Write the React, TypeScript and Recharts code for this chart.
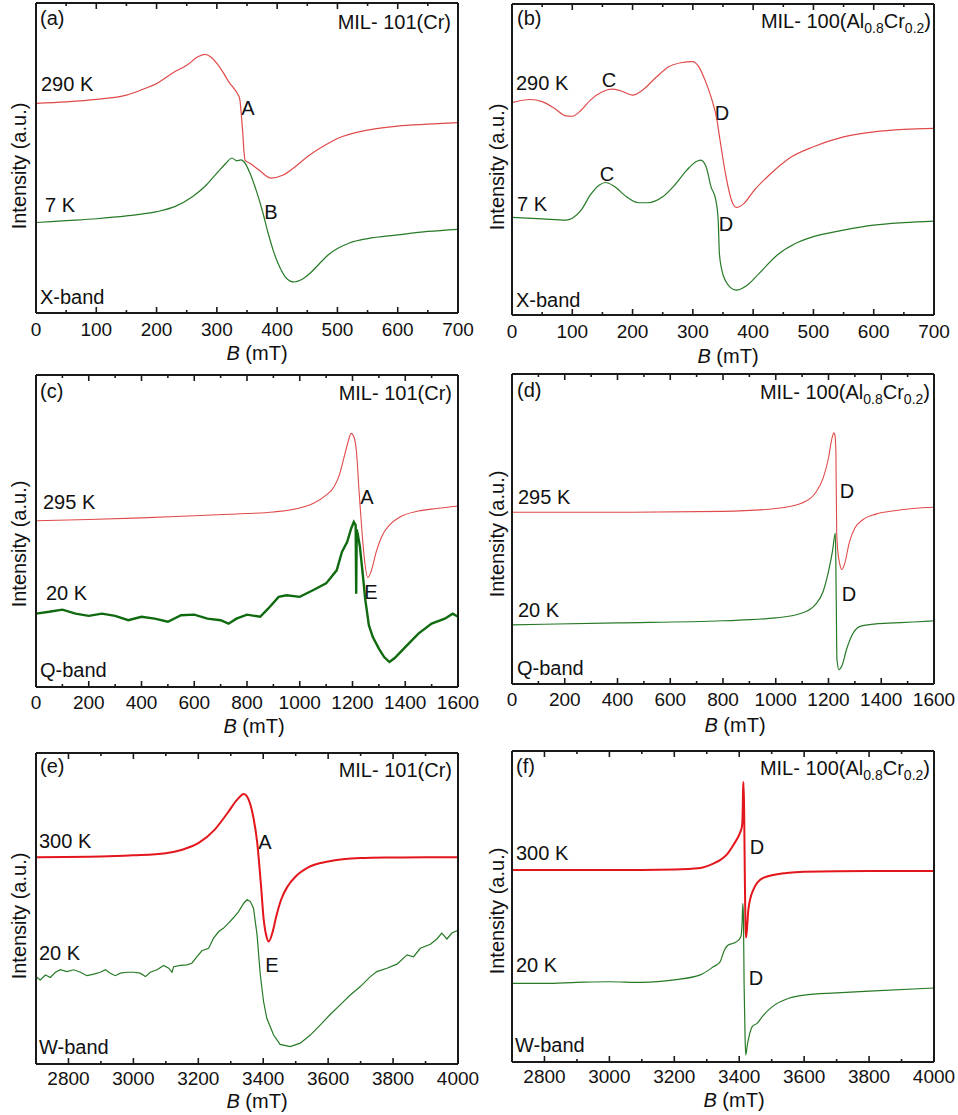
import React from 'react';
import { LineChart, Line, XAxis, YAxis } from 'recharts';

const FONT = '"Liberation Sans", Arial, Helvetica, sans-serif';
const INK = '#111';
const FRAME = '#1a1a1a';
const RED = '#e04a4a';
const RED_W = '#e3161b';
const GREEN = '#267a26';
const GREEN_Q = '#0f6a10';

// tick values + which ones get a label
const ticksX = [0, 50, 100, 150, 200, 250, 300, 350, 400, 450, 500, 550, 600, 650, 700];
const labelsX = [0, 100, 200, 300, 400, 500, 600, 700];
const ticksQ = [0, 100, 200, 300, 400, 500, 600, 700, 800, 900, 1000, 1100, 1200, 1300, 1400, 1500, 1600];
const labelsQ = [0, 200, 400, 600, 800, 1000, 1200, 1400, 1600];
const ticksW = [2800, 2900, 3000, 3100, 3200, 3300, 3400, 3500, 3600, 3700, 3800, 3900, 4000];
const labelsW = [2800, 3000, 3200, 3400, 3600, 3800, 4000];

// (a) X-band, MIL-101(Cr)
const aB290 = [0, 50, 100, 150, 180, 200, 230, 250, 270, 280, 290, 300, 310, 320, 330, 335, 338, 341, 343, 345, 347, 355, 370, 390, 410, 430, 450, 480, 500, 550, 600, 650, 700];
const aI290 = [67.6, 68.1, 68.9, 70.3, 72.4, 74.0, 77.8, 79.9, 82.8, 83.4, 82.6, 80.5, 77.7, 74.5, 72.0, 70.5, 69.0, 63.0, 58.0, 52.0, 49.2, 48.3, 46.1, 43.5, 44.5, 47.2, 50.4, 54.2, 56.3, 59.0, 60.3, 60.9, 61.4];
const aB7 = [0, 50, 100, 150, 200, 230, 260, 280, 300, 315, 325, 333, 340, 345, 355, 365, 375, 385, 395, 405, 415, 428, 440, 455, 470, 485, 500, 520, 550, 600, 650, 700];
const aI7 = [29.2, 29.8, 30.4, 31.3, 32.7, 34.3, 37.6, 40.8, 45.1, 48.3, 50.0, 49.1, 49.4, 48.8, 45.1, 39.7, 33.3, 25.8, 19.3, 14.5, 11.3, 10.0, 10.7, 12.9, 15.9, 18.8, 20.8, 22.6, 24.0, 25.2, 26.3, 27.0];

// (b) X-band, MIL-100(Al0.8Cr0.2)
const bB290 = [0, 30, 50, 70, 90, 100, 115, 130, 150, 165, 180, 200, 215, 240, 260, 280, 300, 310, 320, 330, 340, 345, 355, 365, 372, 385, 400, 430, 460, 500, 550, 600, 650, 700];
const bI290 = [68.3, 69.3, 68.6, 66.5, 64.0, 63.9, 65.9, 69.1, 71.8, 72.6, 72.1, 70.7, 72.1, 76.6, 79.8, 81.1, 81.5, 79.8, 75.6, 70.2, 62.7, 56.3, 44.5, 36.4, 34.6, 35.9, 39.7, 45.6, 50.4, 54.1, 57.3, 58.9, 59.7, 60.0];
const bB7 = [0, 50, 90, 100, 115, 130, 145, 155, 170, 190, 210, 225, 250, 270, 290, 305, 313, 322, 330, 338, 342, 344, 348, 355, 362, 372, 390, 410, 440, 470, 500, 550, 600, 650, 700];
const bI7 = [31.4, 30.9, 30.5, 31.1, 33.8, 38.6, 41.8, 42.6, 41.3, 38.0, 36.1, 36.1, 38.0, 41.8, 46.6, 49.3, 49.8, 47.7, 41.3, 37.0, 30.5, 19.8, 14.5, 10.7, 8.9, 8.0, 9.6, 13.4, 19.3, 23.0, 25.2, 27.3, 28.9, 29.7, 30.2];

// (c) Q-band, MIL-101(Cr)
const cB295 = [0, 200, 400, 600, 800, 900, 1000, 1050, 1100, 1130, 1150, 1170, 1185, 1195, 1205, 1215, 1225, 1235, 1245, 1258, 1270, 1290, 1310, 1340, 1380, 1450, 1520, 1600];
const cI295 = [53.3, 53.7, 54.2, 54.9, 55.6, 56.1, 57.4, 58.8, 61.5, 64.2, 67.9, 74.3, 79.1, 81.3, 80.2, 75.4, 62.6, 50.8, 41.2, 35.1, 36.9, 43.3, 48.1, 51.9, 54.5, 56.4, 57.2, 58.0];
const cB20 = [0, 50, 100, 150, 200, 250, 300, 350, 400, 450, 500, 550, 600, 650, 700, 730, 760, 800, 850, 880, 920, 950, 1000, 1050, 1100, 1140, 1160, 1180, 1195, 1205, 1212, 1214, 1216, 1220, 1228, 1238, 1248, 1262, 1277, 1300, 1320, 1340, 1360, 1400, 1450, 1500, 1550, 1580, 1600];
const cI20 = [23.5, 24.1, 24.8, 23.5, 22.8, 23.5, 22.8, 21.4, 22.5, 21.9, 20.9, 23.0, 23.2, 21.9, 21.4, 20.3, 21.9, 23.2, 22.5, 25.1, 28.9, 29.4, 28.9, 31.0, 33.2, 37.4, 43.3, 46.5, 50.8, 52.9, 51.9, 29.9, 50.5, 49.0, 45.0, 36.9, 28.3, 19.8, 16.0, 12.3, 9.6, 8.0, 9.3, 12.8, 17.1, 20.3, 21.9, 23.5, 22.5];

// (d) Q-band, MIL-100(Al0.8Cr0.2)
const dB295 = [0, 400, 800, 1000, 1100, 1150, 1180, 1200, 1212, 1220, 1224, 1228, 1231, 1236, 1242, 1250, 1260, 1280, 1300, 1330, 1380, 1450, 1520, 1600];
const dI295 = [55.4, 55.4, 55.7, 56.6, 58.4, 61.6, 66.5, 72.9, 78.8, 81.0, 80.4, 75.1, 49.2, 42.3, 39.0, 36.9, 38.5, 46.0, 50.3, 53.0, 54.8, 55.9, 56.6, 57.0];
const dB20 = [0, 400, 800, 1000, 1100, 1150, 1180, 1200, 1215, 1226, 1229, 1232, 1240, 1250, 1270, 1290, 1320, 1380, 1450, 1520, 1600];
const dI20 = [19.1, 19.7, 20.4, 21.3, 22.9, 25.6, 29.9, 36.3, 42.8, 48.7, 30.0, 8.0, 4.6, 5.7, 11.6, 15.9, 18.6, 19.4, 19.7, 20.0, 20.4];

// (e) W-band, MIL-101(Cr)
const eB300 = [2700, 2900, 3000, 3100, 3150, 3200, 3250, 3290, 3320, 3340, 3355, 3370, 3381, 3393, 3401, 3410, 3417, 3428, 3440, 3455, 3475, 3500, 3540, 3600, 3700, 3800, 3900, 4000];
const eI300 = [66.5, 66.7, 67.1, 67.8, 68.9, 71.0, 75.3, 80.7, 85.0, 86.8, 85.0, 79.1, 71.6, 57.6, 46.9, 41.0, 39.4, 42.1, 47.4, 52.8, 57.1, 60.3, 63.3, 65.1, 66.2, 66.4, 66.5, 66.5];
const eB20 = [2700, 2713, 2729, 2744, 2760, 2775, 2795, 2816, 2837, 2857, 2878, 2898, 2914, 2929, 2944, 2960, 2980, 3001, 3021, 3037, 3052, 3073, 3093, 3109, 3119, 3124, 3145, 3165, 3180, 3196, 3211, 3232, 3247, 3263, 3278, 3293, 3309, 3324, 3340, 3350, 3360, 3370, 3381, 3391, 3401, 3411, 3432, 3452, 3483, 3514, 3545, 3576, 3607, 3637, 3668, 3699, 3730, 3750, 3781, 3812, 3843, 3863, 3884, 3915, 3935, 3950, 3966, 3981, 4000];
const eI20 = [28.1, 27.0, 28.6, 27.8, 29.5, 30.3, 29.7, 30.3, 29.5, 28.4, 28.9, 29.5, 30.3, 29.2, 28.4, 29.2, 29.5, 29.5, 29.2, 28.1, 29.5, 30.3, 31.7, 30.8, 29.5, 31.3, 31.7, 31.9, 32.4, 34.5, 36.4, 37.2, 40.5, 42.6, 43.7, 45.3, 47.1, 49.0, 51.7, 52.8, 52.3, 50.1, 41.5, 28.6, 20.1, 14.7, 9.3, 6.3, 5.6, 6.7, 9.3, 12.6, 16.0, 19.0, 22.2, 24.9, 28.1, 29.7, 30.8, 32.1, 35.1, 34.5, 37.2, 38.5, 40.2, 42.1, 40.2, 42.1, 43.0];

// (f) W-band, MIL-100(Al0.8Cr0.2)
const fB300 = [2700, 3000, 3200, 3280, 3320, 3341, 3360, 3382, 3402, 3408, 3410, 3412, 3413, 3415, 3417, 3419, 3421, 3424, 3428, 3443, 3474, 3546, 3600, 3800, 4000];
const fI300 = [61.7, 61.7, 61.9, 62.4, 63.8, 64.9, 66.5, 69.8, 73.6, 75.5, 78.0, 88.0, 90.0, 82.0, 62.0, 45.0, 40.0, 43.0, 48.9, 55.3, 59.2, 60.8, 61.2, 61.4, 61.4];
const fB20 = [2700, 2800, 2900, 3000, 3100, 3200, 3280, 3320, 3341, 3352, 3366, 3382, 3392, 3405, 3409, 3411, 3413, 3415, 3418, 3420, 3425, 3440, 3456, 3471, 3502, 3553, 3600, 3700, 3800, 4000];
const fI20 = [25.3, 25.3, 25.6, 25.8, 25.6, 26.4, 28.0, 30.6, 32.2, 35.4, 37.6, 38.2, 38.7, 40.3, 45.0, 51.0, 46.0, 25.0, 8.0, 2.3, 5.5, 11.4, 12.5, 14.6, 17.8, 20.5, 21.5, 22.2, 22.8, 23.8];

const toPts = (b: number[], v: number[]) => b.map((x, i) => ({ b: x, v: v[i] }));

const MIL101 = 'MIL- 101(Cr)';
const MIL100 = (
  <>
    MIL- 100(Al<tspan fontSize={14} dy={5}>0.8</tspan>
    <tspan dy={-5}>Cr</tspan>
    <tspan fontSize={14} dy={5}>0.2</tspan>
    <tspan dy={-5}>)</tspan>
  </>
);

type Note = { t: React.ReactNode; x: number; y: number; a?: 'start' | 'middle' | 'end' };
type Series = { b: number[]; v: number[]; color: string; width: number; curve?: 'monotone' | 'linear' };
type PanelCfg = {
  left: number; top: number; w: number; h: number;
  plot: [number, number, number, number];
  domain: [number, number];
  ticks: number[]; labels: number[];
  series: Series[];
  notes: Note[];
  yLab: [number, number];
  xLab: [number, number];
  tickDy: number;
};

const panels: PanelCfg[] = [
  {
    left: 0, top: 0, w: 479, h: 372, plot: [36, 3, 422, 310], domain: [0, 700], ticks: ticksX, labels: labelsX,
    series: [
      { b: aB290, v: aI290, color: RED, width: 1.2 },
      { b: aB7, v: aI7, color: GREEN, width: 1.2 },
    ],
    notes: [
      { t: '(a)', x: 40, y: 18 }, { t: MIL101, x: 451, y: 22, a: 'end' },
      { t: '290 K', x: 41, y: 84 }, { t: 'A', x: 248, y: 108, a: 'middle' },
      { t: '7 K', x: 45, y: 205 }, { t: 'B', x: 271, y: 212, a: 'middle' },
      { t: 'X-band', x: 40, y: 297 },
    ],
    yLab: [19, 166], xLab: [257, 353], tickDy: 23,
  },
  {
    left: 479, top: 0, w: 479, h: 372, plot: [512, 4, 422, 311], domain: [0, 700], ticks: ticksX, labels: labelsX,
    series: [
      { b: bB290, v: bI290, color: RED, width: 1.2 },
      { b: bB7, v: bI7, color: GREEN, width: 1.2 },
    ],
    notes: [
      { t: '(b)', x: 517, y: 18 }, { t: MIL100, x: 931, y: 21, a: 'end' },
      { t: '290 K', x: 516, y: 83 }, { t: 'C', x: 609, y: 80, a: 'middle' },
      { t: 'D', x: 722, y: 113, a: 'middle' },
      { t: '7 K', x: 517, y: 204 }, { t: 'C', x: 607, y: 174, a: 'middle' },
      { t: 'D', x: 726, y: 224, a: 'middle' },
      { t: 'X-band', x: 516, y: 300 },
    ],
    yLab: [497, 167], xLab: [728, 356], tickDy: 23,
  },
  {
    left: 0, top: 365, w: 479, h: 380, plot: [36, 375, 422, 312], domain: [0, 1600], ticks: ticksQ, labels: labelsQ,
    series: [
      { b: cB295, v: cI295, color: RED, width: 1.1 },
      { b: cB20, v: cI20, color: GREEN_Q, width: 2.4, curve: 'linear' },
    ],
    notes: [
      { t: '(c)', x: 40, y: 391 }, { t: MIL101, x: 452, y: 393, a: 'end' },
      { t: '295 K', x: 43, y: 502 }, { t: 'A', x: 367, y: 497, a: 'middle' },
      { t: '20 K', x: 46, y: 593 }, { t: 'E', x: 371, y: 592, a: 'middle' },
      { t: 'Q-band', x: 40, y: 670 },
    ],
    yLab: [19, 544], xLab: [254, 726], tickDy: 22,
  },
  {
    left: 479, top: 365, w: 479, h: 380, plot: [512, 374, 422, 310], domain: [0, 1600], ticks: ticksQ, labels: labelsQ,
    series: [
      { b: dB295, v: dI295, color: RED, width: 1.1 },
      { b: dB20, v: dI20, color: GREEN, width: 1.2 },
    ],
    notes: [
      { t: '(d)', x: 517, y: 390 }, { t: MIL100, x: 930, y: 392, a: 'end' },
      { t: '295 K', x: 518, y: 497 }, { t: 'D', x: 847, y: 491, a: 'middle' },
      { t: '20 K', x: 518, y: 610 }, { t: 'D', x: 849, y: 594, a: 'middle' },
      { t: 'Q-band', x: 517, y: 668 },
    ],
    yLab: [497, 534], xLab: [735, 725], tickDy: 22,
  },
  {
    left: 0, top: 735, w: 479, h: 380, plot: [36, 753, 422, 311], domain: [2700, 4000], ticks: ticksW, labels: labelsW,
    series: [
      { b: eB300, v: eI300, color: RED_W, width: 2 },
      { b: eB20, v: eI20, color: GREEN, width: 1.2, curve: 'linear' },
    ],
    notes: [
      { t: '(e)', x: 40, y: 766 }, { t: MIL101, x: 452, y: 770, a: 'end' },
      { t: '300 K', x: 39, y: 841 }, { t: 'A', x: 265, y: 842, a: 'middle' },
      { t: '20 K', x: 39, y: 953 }, { t: 'E', x: 272, y: 965, a: 'middle' },
      { t: 'W-band', x: 39, y: 1047 },
    ],
    yLab: [19, 916], xLab: [257, 1101], tickDy: 21,
  },
  {
    left: 479, top: 735, w: 479, h: 380, plot: [512, 751, 422, 311], domain: [2700, 4000], ticks: ticksW, labels: labelsW,
    series: [
      { b: fB300, v: fI300, color: RED_W, width: 2 },
      { b: fB20, v: fI20, color: GREEN, width: 1.2 },
    ],
    notes: [
      { t: '(f)', x: 516, y: 766 }, { t: MIL100, x: 930, y: 768, a: 'end' },
      { t: '300 K', x: 516, y: 853 }, { t: 'D', x: 757, y: 847, a: 'middle' },
      { t: '20 K', x: 516, y: 965 }, { t: 'D', x: 756, y: 978, a: 'middle' },
      { t: 'W-band', x: 515, y: 1045 },
    ],
    yLab: [497, 911], xLab: [734, 1100], tickDy: 21,
  },
];

function Panel({ c }: { c: PanelCfg }) {
  const [px, py, pw, ph] = c.plot;
  // each axis takes 1px of room, so the margins give that back
  const margin = {
    left: px - c.left - 1,
    top: py - c.top - 1,
    right: c.left + c.w - px - pw - 1,
    bottom: c.top + c.h - py - ph - 1,
  };
  const ox = c.left;
  const oy = c.top;

  const bottomTick = (p: any) => {
    const major = c.labels.includes(p.payload.value);
    return (
      <g>
        <line x1={p.x} x2={p.x} y1={p.y} y2={p.y - (major ? 6 : 3)} stroke={FRAME} strokeWidth={1.6} />
        {major && (
          <text x={p.x} y={p.y + c.tickDy} textAnchor="middle" fontSize={19} fontFamily={FONT} fill={INK}>
            {p.payload.value}
          </text>
        )}
      </g>
    );
  };
  const topTick = (p: any) => {
    const major = c.labels.includes(p.payload.value);
    return <line x1={p.x} x2={p.x} y1={p.y} y2={p.y + (major ? 6 : 3)} stroke={FRAME} strokeWidth={1.6} />;
  };

  const frame = { stroke: FRAME, strokeWidth: 2 };

  return (
    <div style={{ position: 'absolute', left: c.left, top: c.top }}>
      <LineChart width={c.w} height={c.h} margin={margin}>
        <XAxis
          type="number" dataKey="b" domain={c.domain} ticks={c.ticks} interval={0} allowDataOverflow
          height={1} tickSize={0} tickMargin={0} tickLine={false} axisLine={frame} tick={bottomTick}
        />
        <XAxis
          xAxisId="top" orientation="top" type="number" dataKey="b" domain={c.domain} ticks={c.ticks} interval={0}
          allowDataOverflow height={1} tickSize={0} tickMargin={0} tickLine={false} axisLine={frame} tick={topTick}
        />
        <YAxis type="number" domain={[0, 100]} width={1} tick={false} tickLine={false} axisLine={frame} allowDataOverflow />
        <YAxis yAxisId="right" orientation="right" type="number" domain={[0, 100]} width={1} tick={false} tickLine={false} axisLine={frame} />
        {c.series.map((s, i) => (
          <Line
            key={i}
            data={toPts(s.b, s.v)}
            dataKey="v"
            type={s.curve ?? 'monotone'}
            stroke={s.color}
            strokeWidth={s.width}
            dot={false}
            activeDot={false}
            isAnimationActive={false}
          />
        ))}
        <g fontFamily={FONT} fill={INK}>
          {c.notes.map((n, i) => (
            <text key={i} x={n.x - ox} y={n.y - oy + 7} fontSize={20} textAnchor={n.a ?? 'start'}>
              {n.t}
            </text>
          ))}
          <text
            x={c.yLab[0] - ox}
            y={c.yLab[1] - oy}
            fontSize={20}
            textAnchor="middle"
            dominantBaseline="central"
            transform={`rotate(-90 ${c.yLab[0] - ox} ${c.yLab[1] - oy})`}
          >
            Intensity (a.u.)
          </text>
          <text x={c.xLab[0] - ox} y={c.xLab[1] - oy + 7} fontSize={20} textAnchor="middle">
            <tspan fontStyle="italic">B</tspan> (mT)
          </text>
        </g>
      </LineChart>
    </div>
  );
}

export default function App() {
  return (
    <div style={{ position: 'absolute', left: 0, top: 0, width: 958, height: 1115, background: '#fff' }}>
      {panels.map((c, i) => (
        <Panel key={i} c={c} />
      ))}
    </div>
  );
}
